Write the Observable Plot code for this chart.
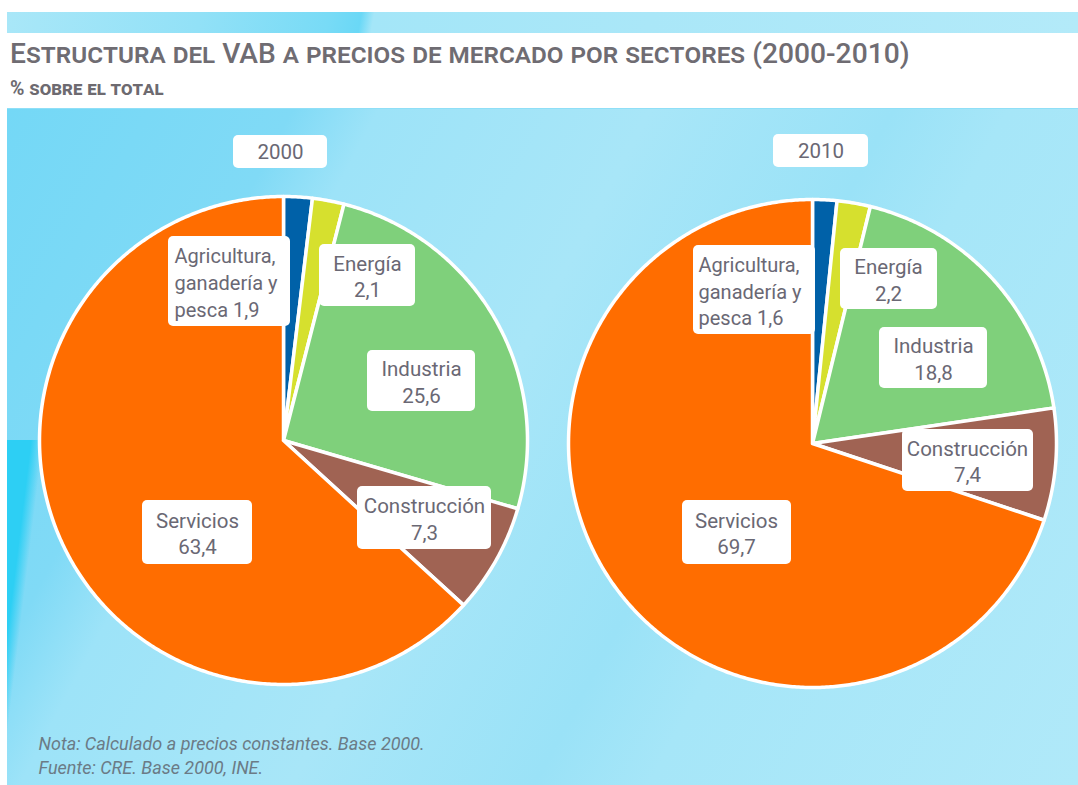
<!DOCTYPE html>
<html>
<head>
<meta charset="utf-8">
<script src="https://cdn.jsdelivr.net/npm/d3@7"></script>
<script src="https://cdn.jsdelivr.net/npm/@observablehq/plot@0.6"></script>
<style>
  html, body { margin: 0; padding: 0; background: #fff; }
  body { width: 1078px; height: 785px; position: relative; overflow: hidden; font-family: Roboto, "Noto Sans", sans-serif; }
  #stripe { position: absolute; left: 7px; top: 12px; width: 1071px; height: 21px;
    background: linear-gradient(100deg, #a9e7f8 0%, #92e1f7 18%, #78dbf6 30%, #6ad8f6 33%, #a4e6f8 34.2%, #aae7f8 60%, #b3eaf9 100%); }
  #title { position: absolute; left: 10px; top: 37px; font-size: 28.2px; font-weight: 500; font-variant: small-caps; color: #6f6c72; white-space: nowrap; }
  #subtitle { position: absolute; left: 10px; top: 77px; font-size: 19.5px; font-weight: bold; font-variant: small-caps; color: #6d6a70; white-space: nowrap; }
  #panel { position: absolute; left: 7px; top: 108px; width: 1071px; height: 677px;
    background:
      linear-gradient(97deg, #2dcff4 0px, #2dcff4 24px, rgba(45,207,244,0) 36px) left bottom / 70px 345px no-repeat,
      linear-gradient(118deg, #74d8f6 0%, #80daf6 20%, #9de3f8 26%, #a8e6f8 45%, #9ae2f7 62%, #a6e6f8 70%, #b0e9f9 100%);
    border-top: 1px solid #8fdff7; box-sizing: border-box; }
  #panel svg { position: absolute; left: 0; top: 0; }
</style>
</head>
<body>
<div id="stripe"></div>
<div id="title">Estructura del VAB a precios de mercado por sectores (2000-2010)</div>
<div id="subtitle">% sobre el total</div>
<div id="panel"></div>
<script>
// ---- data ----
const years = ["2000", "2010"];
const sectors = ["Agricultura, ganadería y pesca", "Energía", "Industria", "Construcción", "Servicios"];
const shares2000 = [1.9, 2.1, 25.6, 7.3, 63.4];
const shares2010 = [1.6, 2.2, 18.8, 7.4, 69.7];
const labelNames = ["Agricultura,\nganadería y\npesca", "Energía", "Industria", "Construcción", "Servicios"];
const notes = ["Nota: Calculado a precios constantes. Base 2000.", "Fuente: CRE. Base 2000, INE."];

// ---- style / layout (not data) ----
const sectorColors = ["#0061a8", "#d6e02e", "#7fd07b", "#a06353", "#ff6d00"];
const W = 1071, H = 677;
const pieLayout = [{cx: 276, cy: 331, r: 244}, {cx: 805, cy: 334, r: 244}];
// label boxes in panel coordinates: [x1, y1, x2, y2, textX, anchor]
const boxLayout = [
  [[161, 127, 283, 217, 167, "start"], [312, 135, 408, 197, 360, "middle"], [360, 241, 468, 302, 414, "middle"], [350, 377, 484, 440, 417, "middle"], [135, 391, 245, 455, 190, "middle"]],
  [[686, 136, 808, 225, 691, "start"], [833, 139, 930, 200, 881, "middle"], [872, 218, 980, 279, 926, "middle"], [895, 320, 1026, 382, 960, "middle"], [675, 391, 784, 455, 729, "middle"]]
];
const yearBoxLayout = [[226, 26, 320, 59], [766, 25, 861, 58]];

const fmt = v => String(v).replace(".", ",");
const allShares = [shares2000, shares2010];

// slice polygons
const slicePoints = [];
allShares.forEach((vals, yi) => {
  const {cx, cy, r} = pieLayout[yi];
  const arcs = d3.pie().sort(null).value(d => d)(vals);
  arcs.forEach((a, si) => {
    const id = years[yi] + "-" + si;
    const sector = sectors[si];
    slicePoints.push({id, sector, x: cx, y: cy});
    const n = Math.max(2, Math.ceil((a.endAngle - a.startAngle) / (Math.PI / 360)));
    for (let k = 0; k <= n; k++) {
      const ang = a.startAngle + (a.endAngle - a.startAngle) * k / n;
      slicePoints.push({id, sector, x: cx + r * Math.sin(ang), y: cy - r * Math.cos(ang)});
    }
    slicePoints.push({id, sector, x: cx, y: cy});
  });
});

// labels
const labels = [];
allShares.forEach((vals, yi) => {
  vals.forEach((v, si) => {
    const [x1, y1, x2, y2, tx, anchor] = boxLayout[yi][si];
    const text = si === 0 ? labelNames[si] + " " + fmt(v) : labelNames[si] + "\n" + fmt(v);
    labels.push({x1, y1, x2, y2, tx, ty: (y1 + y2) / 2, anchor, text});
  });
});
const yearLabels = years.map((y, i) => {
  const [x1, y1, x2, y2] = yearBoxLayout[i];
  return {x1, y1, x2, y2, tx: (x1 + x2) / 2, ty: (y1 + y2) / 2, text: y};
});

const textColor = "#6a6874";
const chart = Plot.plot({
  width: W, height: H,
  margin: 0,
  style: {background: "none", fontFamily: "Roboto, 'Noto Sans', sans-serif", overflow: "visible"},
  x: {domain: [0, W], axis: null},
  y: {domain: [H, 0], axis: null},
  color: {domain: sectors, range: sectorColors},
  marks: [
    Plot.line(slicePoints, {x: "x", y: "y", z: "id", fill: "sector", stroke: "white", strokeWidth: 3.5, strokeLinejoin: "round", curve: "linear"}),
    Plot.rect(labels, {x1: "x1", x2: "x2", y1: "y1", y2: "y2", fill: "white", rx: 5}),
    Plot.rect(yearLabels, {x1: "x1", x2: "x2", y1: "y1", y2: "y2", fill: "white", rx: 5}),
    Plot.text(labels.filter(d => d.anchor === "start"), {x: "tx", y: "ty", text: "text", textAnchor: "start", fill: textColor, fontSize: 20, lineHeight: 1.33}),
    Plot.text(labels.filter(d => d.anchor === "middle"), {x: "tx", y: "ty", text: "text", textAnchor: "middle", fill: textColor, fontSize: 20.5, lineHeight: 1.3}),
    Plot.text(yearLabels, {x: "tx", y: "ty", text: "text", textAnchor: "middle", fill: textColor, fontSize: 20.5}),
    Plot.text([notes.join("\n")], {text: d => d, frameAnchor: "bottom-left", dx: 31, dy: -13, lineAnchor: "bottom", textAnchor: "start", fill: "#6b7b86", fontSize: 18, fontStyle: "italic", lineHeight: 1.3})
  ]
});
document.getElementById("panel").appendChild(chart);
</script>
</body>
</html>
